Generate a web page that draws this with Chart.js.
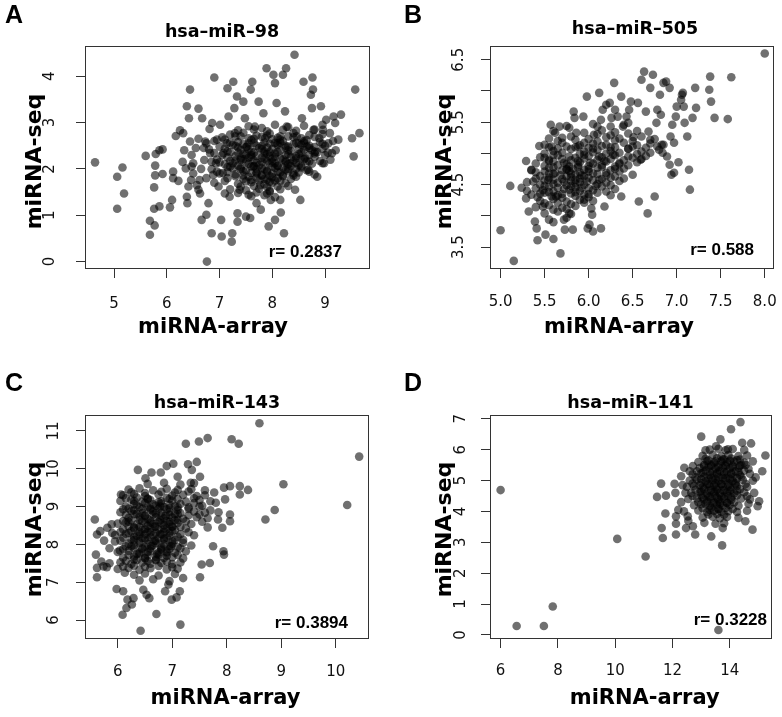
<!DOCTYPE html>
<html><head><meta charset="utf-8">
<script src="https://cdn.jsdelivr.net/npm/chart.js@4.4.1/dist/chart.umd.min.js"></script>
<style>
html,body{margin:0;padding:0;background:#fff;width:782px;height:717px;overflow:hidden;}
canvas{position:absolute;}
</style></head><body>
<canvas id="cA" width="391" height="358" style="left:0;top:0"></canvas>
<canvas id="cB" width="391" height="358" style="left:391px;top:0"></canvas>
<canvas id="cC" width="391" height="359" style="left:0;top:358px"></canvas>
<canvas id="cD" width="391" height="359" style="left:391px;top:358px"></canvas>
<script>
// ---------- DATA ----------
const panelLetters = ['A', 'B', 'C', 'D'];
const panelTitles = ['hsa–miR–98', 'hsa–miR–505', 'hsa–miR–143', 'hsa–miR–141'];
const xAxisTitle = 'miRNA-array';
const yAxisTitle = 'miRNA-seq';
const rLabels = ['r= 0.2837', 'r= 0.588', 'r= 0.3894', 'r= 0.3228'];

const xTicksA = [5, 6, 7, 8, 9];
const xTickLabelsA = ['5', '6', '7', '8', '9'];
const yTicksA = [0, 1, 2, 3, 4];
const yTickLabelsA = ['0', '1', '2', '3', '4'];

const xTicksB = [5, 5.5, 6, 6.5, 7, 7.5, 8];
const xTickLabelsB = ['5.0', '5.5', '6.0', '6.5', '7.0', '7.5', '8.0'];
const yTicksB = [3.5, 4, 4.5, 5, 5.5, 6, 6.5];
const yTickLabelsB = ['3.5', '', '4.5', '', '5.5', '', '6.5'];

const xTicksC = [6, 7, 8, 9, 10];
const xTickLabelsC = ['6', '7', '8', '9', '10'];
const yTicksC = [6, 7, 8, 9, 10, 11];
const yTickLabelsC = ['6', '7', '8', '9', '10', '11'];

const xTicksD = [6, 8, 10, 12, 14];
const xTickLabelsD = ['6', '8', '10', '12', '14'];
const yTicksD = [0, 1, 2, 3, 4, 5, 6, 7];
const yTickLabelsD = ['0', '1', '2', '3', '4', '5', '6', '7'];

// [miRNA-array, miRNA-seq]
const miR98 = [
[4.64,2.14],[5.06,1.83],[5.16,2.03],[5.06,1.14],[5.19,1.47],[5.60,2.28],[5.68,0.88],[5.68,0.58],[5.77,0.78],[5.76,1.14],
[5.76,1.60],[5.78,1.86],[5.78,2.07],[5.79,2.32],[5.86,2.40],[5.92,2.42],[5.92,1.89],[5.86,1.19],[6.06,1.17],[6.10,1.33],
[6.12,1.94],[6.12,1.80],[6.17,2.71],[6.22,1.74],[6.25,2.83],[6.31,2.77],[6.33,2.40],[6.36,2.01],[6.38,3.35],[6.38,1.40],
[6.39,1.26],[6.41,1.62],[6.44,3.71],[6.42,3.09],[6.44,2.59],[6.47,2.30],[6.47,2.05],[6.46,1.76],[6.50,2.12],[6.57,1.65],
[6.60,3.30],[6.62,1.76],[6.63,1.47],[6.66,0.90],[6.67,3.09],[6.71,2.19],[6.73,2.59],[6.75,1.01],[6.76,0.00],[6.79,1.26],
[6.81,2.86],[6.82,2.34],[6.85,0.61],[6.86,2.99],[6.88,1.87],[6.90,3.97],[6.93,2.12],[6.95,2.63],[6.98,1.62],[7.01,2.95],
[7.03,0.90],[7.04,0.54],[7.06,1.91],[7.07,2.34],[7.10,1.47],[7.14,2.55],[7.15,3.74],[7.17,3.13],[7.19,1.40],[7.20,2.05],
[7.23,0.43],[7.24,0.61],[7.26,3.88],[7.28,3.31],[7.29,2.77],[7.33,3.56],[7.34,1.04],[7.34,0.86],[7.38,1.55],[7.40,2.19],
[7.45,3.45],[7.48,3.09],[7.50,0.97],[7.52,2.48],[7.55,1.44],[7.58,0.94],[7.59,3.71],[7.62,3.88],[7.64,2.05],[7.67,2.91],
[7.70,1.26],[7.74,3.45],[7.77,1.65],[7.78,1.12],[7.83,3.20],[7.86,2.66],[7.89,4.17],[7.93,0.76],[7.95,1.51],[7.97,1.33],
[8.02,4.03],[8.05,3.85],[8.05,0.90],[8.08,3.42],[8.10,2.55],[8.15,1.33],[8.16,1.06],[8.20,4.03],[8.22,0.61],[8.24,3.24],
[8.26,4.17],[8.27,2.91],[8.30,1.63],[8.34,2.12],[8.42,4.46],[8.43,1.55],[8.46,2.70],[8.53,1.33],[8.56,3.09],[8.59,3.88],
[8.62,2.23],[8.65,2.48],[8.68,1.98],[8.73,3.60],[8.75,3.31],[8.76,3.97],[8.77,3.71],[8.78,2.84],[8.81,2.37],[8.85,1.83],
[8.89,2.66],[8.92,3.35],[8.96,2.84],[8.98,2.12],[9.02,3.06],[9.06,2.55],[9.09,2.77],[9.13,2.34],[9.16,3.13],[9.19,2.99],
[9.25,2.63],[9.30,3.17],[9.51,2.66],[9.54,2.27],[9.57,3.71],[9.65,2.77],
[7.55,2.92],[7.8,2.88],[8.05,2.95],[8.3,2.9],[8.6,2.93],
[7.2,2.74],[7.45,2.78],[7.7,2.72],[7.95,2.76],[8.15,2.7],[8.4,2.77],[8.7,2.73],[8.95,2.75],
[6.9,2.6],[7.1,2.63],[7.35,2.58],[7.6,2.62],[7.85,2.57],[8.0,2.64],[8.2,2.6],[8.45,2.56],[8.65,2.62],[8.9,2.58],
[7.0,2.48],[7.25,2.52],[7.5,2.47],[7.7,2.5],[7.9,2.46],[8.1,2.51],[8.3,2.48],[8.55,2.52],[8.8,2.47],[9.0,2.5],
[6.8,2.42],[7.15,2.38],[7.4,2.41],[7.6,2.37],[7.8,2.42],[7.95,2.36],[8.15,2.4],[8.35,2.38],[8.6,2.41],[8.85,2.36],
[7.05,2.3],[7.3,2.27],[7.5,2.31],[7.7,2.28],[7.9,2.32],[8.05,2.26],[8.25,2.3],[8.45,2.27],[8.7,2.3],
[6.95,2.2],[7.2,2.17],[7.45,2.21],[7.65,2.18],[7.85,2.22],[8.0,2.16],[8.2,2.2],[8.4,2.18],[8.6,2.21],[8.9,2.17],[9.1,2.2],
[7.1,2.1],[7.35,2.07],[7.55,2.11],[7.75,2.08],[7.95,2.12],[8.1,2.06],[8.3,2.1],[8.5,2.08],[8.75,2.11],
[6.85,1.99],[7.25,2.01],[7.5,1.97],[7.7,2.0],[7.9,1.96],[8.05,2.02],[8.25,1.98],[8.45,2.0],[8.65,1.97],
[7.0,1.9],[7.3,1.88],[7.6,1.91],[7.8,1.87],[8.0,1.9],[8.2,1.86],[8.4,1.9],[8.8,1.88],
[7.15,1.8],[7.45,1.78],[7.7,1.81],[7.9,1.77],[8.1,1.8],[8.35,1.78],
[6.9,1.7],[7.35,1.68],[7.6,1.71],[7.85,1.67],[8.0,1.7],[8.25,1.69],
[7.2,1.56],[7.5,1.54],[7.75,1.57],[7.95,1.53],[8.15,1.56],
[7.6,1.41],[7.85,1.43],[8.05,1.39],
[7.35,2.83],[7.65,2.85],[7.9,2.81],[8.2,2.84],[8.45,2.82],[8.8,2.85],
[7.05,2.68],[7.3,2.7],[7.55,2.66],[7.8,2.69],[8.1,2.67],[8.3,2.7],[8.55,2.66],[8.8,2.69],
[6.75,2.55],[7.2,2.57],[7.45,2.53],[7.65,2.56],[7.95,2.54],[8.15,2.57],[8.4,2.53],[8.6,2.56],[8.95,2.54],
[7.1,2.44],[7.35,2.46],[7.55,2.42],[7.75,2.45],[8.0,2.43],[8.25,2.46],[8.5,2.42],[8.7,2.45],[8.95,2.43],
[6.9,2.34],[7.2,2.36],[7.45,2.32],[7.65,2.35],[7.85,2.33],[8.1,2.36],[8.3,2.32],[8.55,2.35],[8.8,2.33],[9.05,2.35],
[7.15,2.25],[7.4,2.23],[7.6,2.26],[7.8,2.24],[7.95,2.27],[8.15,2.23],[8.35,2.25],[8.55,2.24],[8.8,2.26],
[7.0,2.14],[7.25,2.12],[7.5,2.15],[7.7,2.13],[7.9,2.16],[8.05,2.12],[8.25,2.14],[8.45,2.13],[8.7,2.16],[8.95,2.12],
[7.15,2.04],[7.4,2.03],[7.6,2.05],[7.8,2.02],[8.0,2.05],[8.2,2.03],[8.35,2.06],[8.55,2.03],
[6.95,1.94],[7.15,1.93],[7.45,1.95],[7.7,1.92],[7.9,1.94],[8.1,1.93],[8.3,1.95],[8.5,1.92],[8.7,1.94],
[7.3,1.84],[7.55,1.83],[7.8,1.85],[8.0,1.82],[8.2,1.84],[8.45,1.83],
[7.1,1.74],[7.5,1.73],[7.75,1.75],[7.95,1.72],[8.15,1.74],
[7.4,1.62],[7.65,1.63],[7.9,1.61],[8.1,1.62],
[7.35,1.48],[7.7,1.49],[7.9,1.47],
[6.55,2.45],[6.65,2.0],[6.6,2.65],[6.75,1.8],[6.5,1.9],[6.85,2.15],[6.7,2.45],[6.3,2.15],[6.6,1.55],
[9.0,2.3],[9.15,2.6],[8.95,2.95],[9.2,2.4],
[7.4,2.7],[7.65,2.65],[7.9,2.72],[8.15,2.63],[8.4,2.68],[8.6,2.6],
[7.3,2.5],[7.55,2.55],[7.8,2.5],[8.05,2.56],[8.25,2.5],[8.5,2.55],[8.7,2.5],
[7.35,2.35],[7.6,2.3],[7.85,2.38],[8.05,2.33],[8.3,2.4],[8.5,2.32],[8.75,2.4],
[7.3,2.18],[7.55,2.24],[7.8,2.15],[8.0,2.22],[8.25,2.17],[8.45,2.23],[8.65,2.16],
[7.4,2.0],[7.65,2.06],[7.85,1.99],[8.1,2.07],[8.3,2.0],[8.55,2.06],
[7.45,1.86],[7.7,1.9],[7.95,1.85],[8.15,1.92],[8.4,1.86],
[7.6,1.76],[7.85,1.78],[8.05,1.75]
];

const miR505 = [
[5.0,3.77],[5.15,3.28],[5.11,4.48],[5.24,4.45],[5.29,4.88],[5.29,4.28],[5.32,4.07],[5.35,4.73],[5.37,4.55],[5.39,3.91],
[5.41,3.80],[5.42,3.61],[5.44,5.12],[5.45,4.36],[5.48,4.15],[5.50,4.93],[5.51,3.70],[5.54,4.58],[5.57,5.46],[5.58,5.11],
[5.60,3.90],[5.60,3.63],[5.62,5.33],[5.63,4.31],[5.67,5.43],[5.68,3.40],[5.70,5.25],[5.72,3.94],[5.73,3.78],[5.75,4.74],
[5.78,5.41],[5.78,4.04],[5.82,3.78],[5.83,5.67],[5.84,5.57],[5.86,5.33],[5.88,5.11],[5.94,5.59],[5.95,5.17],[5.95,4.26],
[5.98,5.91],[5.99,3.80],[6.01,3.86],[6.05,3.75],[6.03,4.12],[6.04,4.02],[6.06,5.30],[6.10,5.43],[6.12,5.97],[6.14,3.80],
[6.14,5.54],[6.16,5.70],[6.18,4.15],[6.20,5.78],[6.24,5.81],[6.26,5.57],[6.29,6.13],[6.30,5.70],[6.33,5.59],[6.37,4.31],
[6.37,5.91],[6.39,5.43],[6.43,5.59],[6.45,5.49],[6.46,5.70],[6.48,5.83],[6.51,5.26],[6.56,5.81],[6.57,4.23],[6.59,4.90],
[6.60,6.18],[6.63,6.31],[6.65,5.67],[6.67,4.04],[6.68,5.35],[6.70,6.05],[6.73,6.26],[6.75,4.31],[6.77,5.49],[6.78,5.70],
[6.78,5.11],[6.81,5.94],[6.82,5.62],[6.83,5.14],[6.84,5.01],[6.85,6.13],[6.88,6.15],[6.89,4.95],[6.92,6.05],[6.92,4.82],
[6.93,5.27],[6.94,4.66],[6.95,5.46],[6.97,4.69],[6.97,5.17],[6.99,5.59],[7.00,5.75],[7.02,4.86],[7.05,5.86],[7.06,5.94],
[7.07,5.97],[7.08,5.75],[7.09,5.49],[7.12,5.27],[7.14,4.74],[7.15,4.42],[7.18,5.57],[7.21,6.05],[7.22,5.73],[7.37,6.02],
[7.38,6.23],[7.39,5.83],[7.43,5.57],[7.58,5.55],[7.62,6.22],[8.0,6.60],
[5.75,5.44],[6.05,5.47],[6.25,5.43],[6.4,5.46],
[5.6,5.36],[5.95,5.33],[6.15,5.37],[6.3,5.34],[6.55,5.36],
[5.55,5.24],[5.8,5.27],[6.0,5.23],[6.2,5.26],[6.35,5.24],[6.6,5.27],[6.75,5.23],
[5.5,5.14],[5.7,5.17],[5.9,5.13],[6.05,5.16],[6.2,5.14],[6.4,5.17],[6.55,5.13],[6.7,5.16],[6.85,5.14],
[5.6,5.04],[5.8,5.07],[5.95,5.03],[6.1,5.06],[6.25,5.04],[6.45,5.07],[6.6,5.03],[6.8,5.06],
[5.45,4.94],[5.65,4.97],[5.85,4.93],[6.0,4.96],[6.15,4.94],[6.3,4.97],[6.5,4.93],[6.65,4.96],
[5.4,4.84],[5.6,4.87],[5.75,4.83],[5.9,4.86],[6.05,4.84],[6.2,4.87],[6.35,4.83],[6.55,4.86],
[5.35,4.74],[5.55,4.77],[5.7,4.73],[5.82,4.76],[5.95,4.74],[6.1,4.77],[6.25,4.73],[6.4,4.76],
[5.45,4.64],[5.6,4.67],[5.75,4.63],[5.85,4.66],[5.95,4.64],[6.1,4.67],[6.3,4.63],[6.5,4.66],
[5.3,4.54],[5.5,4.57],[5.65,4.53],[5.8,4.56],[5.9,4.54],[6.05,4.57],[6.2,4.53],[6.35,4.56],
[5.4,4.44],[5.55,4.47],[5.72,4.43],[5.85,4.46],[6.0,4.44],[6.15,4.47],[6.3,4.43],
[5.35,4.34],[5.5,4.37],[5.65,4.33],[5.8,4.36],[5.95,4.34],[6.1,4.37],[6.25,4.33],
[5.45,4.24],[5.6,4.27],[5.75,4.23],[5.9,4.26],[6.05,4.24],
[5.4,4.14],[5.55,4.17],[5.7,4.13],[5.85,4.16],
[5.5,4.04],[5.65,4.07],[5.8,4.03],
[5.55,3.94],[5.75,3.97],
[6.1,5.31],[6.25,5.29],[6.45,5.32],
[5.65,5.2],[5.85,5.22],[6.1,5.19],[6.3,5.21],[6.5,5.2],[6.7,5.22],
[5.55,5.1],[5.75,5.11],[6.0,5.09],[6.15,5.12],[6.3,5.1],[6.5,5.11],[6.65,5.09],
[5.5,5.0],[5.7,5.01],[5.9,4.99],[6.05,5.02],[6.2,5.0],[6.35,5.01],[6.55,4.99],[6.7,5.01],
[5.55,4.9],[5.7,4.91],[5.8,4.89],[5.95,4.92],[6.1,4.9],[6.25,4.91],[6.4,4.89],[6.6,4.91],
[5.5,4.8],[5.65,4.81],[5.78,4.79],[5.88,4.82],[6.0,4.8],[6.15,4.81],[6.3,4.79],[6.45,4.81],
[5.4,4.7],[5.5,4.71],[5.62,4.69],[5.78,4.72],[5.9,4.7],[6.0,4.71],[6.2,4.69],[6.35,4.71],
[5.4,4.6],[5.55,4.61],[5.7,4.59],[5.8,4.62],[5.9,4.6],[6.0,4.61],[6.15,4.59],[6.25,4.61],[6.4,4.6],
[5.45,4.5],[5.6,4.51],[5.75,4.49],[5.85,4.52],[5.95,4.5],[6.1,4.51],[6.25,4.49],
[5.3,4.4],[5.48,4.41],[5.6,4.39],[5.78,4.42],[5.9,4.4],[6.05,4.41],[6.2,4.39],
[5.42,4.3],[5.58,4.31],[5.7,4.29],[5.85,4.32],[6.0,4.3],
[5.5,4.2],[5.65,4.21],[5.8,4.19],[5.95,4.21],
[5.6,4.1],[5.75,4.11],
[5.65,5.08],[5.85,5.1],[6.05,5.08],[6.25,5.1],[6.45,5.08],
[5.6,4.98],[5.78,4.95],[5.95,4.98],[6.12,4.95],[6.28,4.98],[6.45,4.95],
[5.55,4.88],[5.72,4.85],[5.88,4.88],[6.02,4.85],[6.18,4.88],[6.35,4.85],
[5.6,4.78],[5.75,4.75],[5.88,4.78],[6.0,4.75],[6.15,4.78],[6.3,4.75],
[5.55,4.68],[5.68,4.65],[5.8,4.68],[5.92,4.65],[6.05,4.68],[6.2,4.65],
[5.6,4.58],[5.72,4.55],[5.85,4.58],[5.98,4.55],[6.12,4.58],
[5.5,4.48],[5.65,4.45],[5.8,4.48],[5.92,4.45],[6.08,4.48],
[5.55,4.38],[5.7,4.35],[5.85,4.38],[6.0,4.35]
];

const miR143 = [
[5.58,8.66],[5.62,8.26],[5.60,7.73],[5.62,7.38],[5.62,7.13],[5.74,7.42],[5.68,8.35],[5.81,8.44],[5.89,8.53],[5.95,8.08],
[5.98,6.82],[6.04,7.84],[6.06,9.32],[6.09,6.14],[6.10,6.76],[6.13,7.25],[6.16,6.32],[6.18,6.54],[6.26,6.41],[6.29,6.58],
[6.37,9.97],[6.42,5.72],[6.47,6.80],[6.51,9.75],[6.53,6.67],[6.58,6.58],[6.62,9.90],[6.71,6.16],[6.79,9.90],[6.87,6.76],
[6.90,10.07],[6.93,6.94],[6.99,6.54],[7.02,10.13],[7.08,6.60],[7.10,9.79],[7.14,6.76],[7.15,5.88],[7.20,7.11],[7.25,10.66],
[7.29,10.12],[7.34,9.63],[7.36,9.97],[7.45,10.18],[7.49,10.72],[7.51,9.79],[7.51,7.13],[7.54,7.47],[7.65,10.81],[7.69,7.51],
[7.75,7.95],[7.77,9.37],[7.84,8.66],[7.92,8.44],[7.94,7.82],[7.95,7.73],[7.97,9.19],[7.95,9.50],[8.06,9.54],[8.06,8.79],
[8.06,8.61],[8.09,10.78],[8.22,10.66],[8.24,9.54],[8.24,9.32],[8.39,9.44],[8.60,11.20],[8.71,8.66],[8.88,8.91],[9.04,9.59],
[10.21,9.04],[10.43,10.32],
[6.55,9.6],[6.85,9.63],[7.15,9.58],[7.4,9.62],
[6.2,9.45],[6.4,9.48],[6.65,9.43],[6.9,9.47],[7.1,9.44],[7.35,9.46],[7.6,9.43],
[6.1,9.3],[6.3,9.33],[6.5,9.28],[6.75,9.32],[7.0,9.29],[7.2,9.31],[7.45,9.28],
[6.05,9.15],[6.25,9.18],[6.45,9.13],[6.6,9.17],[6.8,9.14],[7.0,9.16],[7.25,9.13],[7.5,9.17],[7.7,9.14],
[6.15,9.0],[6.35,9.03],[6.55,8.98],[6.7,9.02],[6.85,8.99],[7.05,9.01],[7.3,8.98],[7.55,9.02],
[6.05,8.85],[6.25,8.88],[6.45,8.83],[6.65,8.87],[6.8,8.84],[6.95,8.86],[7.15,8.83],[7.4,8.87],[7.6,8.84],
[6.2,8.7],[6.4,8.73],[6.55,8.68],[6.7,8.72],[6.85,8.69],[7.0,8.71],[7.2,8.68],[7.45,8.72],[7.65,8.69],
[6.0,8.55],[6.15,8.58],[6.35,8.53],[6.5,8.57],[6.65,8.54],[6.8,8.56],[6.95,8.53],[7.1,8.57],[7.35,8.54],
[6.1,8.4],[6.3,8.43],[6.45,8.38],[6.6,8.42],[6.75,8.39],[6.9,8.41],[7.05,8.38],[7.25,8.42],
[5.95,8.25],[6.15,8.28],[6.35,8.23],[6.5,8.27],[6.65,8.24],[6.8,8.26],[6.95,8.23],[7.15,8.27],[7.4,8.24],
[6.05,8.1],[6.25,8.13],[6.4,8.08],[6.55,8.12],[6.7,8.09],[6.85,8.11],[7.0,8.08],[7.2,8.12],
[6.15,7.95],[6.3,7.98],[6.5,7.93],[6.65,7.97],[6.8,7.94],[6.95,7.96],[7.1,7.93],[7.35,7.97],
[6.0,7.8],[6.2,7.83],[6.4,7.78],[6.6,7.82],[6.75,7.79],[6.9,7.81],[7.05,7.78],[7.25,7.82],
[6.1,7.65],[6.3,7.68],[6.5,7.63],[6.7,7.67],[6.85,7.64],[7.0,7.66],[7.2,7.63],
[5.85,7.5],[6.05,7.53],[6.25,7.48],[6.45,7.52],[6.6,7.49],[6.8,7.51],[7.0,7.48],[7.15,7.52],
[6.0,7.35],[6.2,7.38],[6.4,7.33],[6.6,7.37],[6.9,7.34],[7.1,7.36],
[6.3,7.2],[6.5,7.23],[6.75,7.18],[7.05,7.22],
[6.4,7.05],[6.65,7.08],[6.95,7.03],
[6.25,9.38],[6.5,9.36],[6.8,9.39],[7.05,9.37],[7.3,9.4],
[6.15,9.22],[6.35,9.24],[6.55,9.21],[6.9,9.23],[7.1,9.2],[7.4,9.22],
[6.3,9.07],[6.5,9.09],[6.65,9.06],[6.8,9.08],[6.95,9.05],[7.15,9.07],[7.4,9.09],
[6.1,8.93],[6.3,8.91],[6.45,8.94],[6.6,8.92],[6.75,8.95],[6.9,8.93],[7.1,8.91],[7.3,8.94],
[6.15,8.78],[6.35,8.8],[6.5,8.77],[6.65,8.79],[6.8,8.76],[6.95,8.78],[7.1,8.8],[7.3,8.77],[7.5,8.79],
[6.1,8.62],[6.25,8.64],[6.45,8.61],[6.6,8.63],[6.75,8.6],[6.9,8.62],[7.05,8.64],[7.25,8.61],
[6.2,8.48],[6.4,8.46],[6.55,8.49],[6.7,8.47],[6.85,8.5],[7.0,8.48],[7.15,8.46],
[6.05,8.33],[6.25,8.35],[6.4,8.32],[6.55,8.34],[6.7,8.31],[6.85,8.33],[7.0,8.35],[7.3,8.32],
[6.1,8.18],[6.3,8.2],[6.45,8.17],[6.6,8.19],[6.75,8.16],[6.9,8.18],[7.1,8.2],
[6.2,8.02],[6.4,8.04],[6.55,8.01],[6.7,8.03],[6.85,8.0],[7.0,8.02],[7.2,8.04],
[6.1,7.88],[6.3,7.9],[6.45,7.87],[6.6,7.89],[6.8,7.86],[6.95,7.88],[7.15,7.9],
[6.2,7.72],[6.4,7.74],[6.55,7.71],[6.75,7.73],[6.9,7.7],[7.1,7.72],
[6.15,7.57],[6.35,7.59],[6.55,7.56],[6.7,7.58],[6.9,7.55],
[6.1,7.42],[6.3,7.44],[6.5,7.41],[6.75,7.43],[7.0,7.4],
[5.75,8.1],[5.85,7.9],[5.7,7.55],[5.9,8.3],[5.8,7.4],
[7.6,9.3],[7.7,8.9],[7.8,9.1],[7.55,8.6],[7.65,8.45],[7.85,8.85],[7.5,9.0],
[6.3,9.15],[6.55,9.2],[6.75,9.12],[6.95,9.2],
[6.2,8.95],[6.4,8.98],[6.6,8.95],[6.78,9.0],[6.95,8.96],[7.1,8.99],
[6.3,8.8],[6.5,8.75],[6.7,8.82],[6.88,8.76],[7.05,8.8],
[6.2,8.6],[6.4,8.65],[6.6,8.58],[6.78,8.64],[6.95,8.6],[7.1,8.65],
[6.3,8.45],[6.5,8.4],[6.68,8.47],[6.85,8.42],[7.0,8.46],
[6.2,8.3],[6.4,8.26],[6.6,8.32],[6.78,8.28],[6.95,8.3],
[6.3,8.12],[6.5,8.16],[6.68,8.1],[6.85,8.15],[7.05,8.12],
[6.25,7.95],[6.45,7.9],[6.62,7.96],[6.8,7.9],[6.98,7.95],
[6.35,7.75],[6.55,7.8],[6.72,7.75],[6.9,7.78],
[6.3,7.6],[6.5,7.65],[6.7,7.6]
];

const miR141 = [
[6.0,4.69],[6.56,0.29],[7.51,0.29],[7.82,0.92],[10.07,3.11],[11.06,2.54],[13.6,0.16],[11.46,4.47],[11.6,4.90],[11.77,4.51],
[11.75,3.93],[11.62,3.46],[11.66,3.14],[12.07,4.89],[12.10,4.60],[12.12,3.84],[12.12,3.60],[12.12,3.25],[12.30,5.14],[12.41,5.41],
[12.71,5.47],[12.47,3.46],[12.71,3.52],[12.79,3.25],[13.0,6.42],[13.15,5.98],[13.35,3.19],[13.73,2.90],[13.75,3.46],[14.37,6.89],
[14.04,6.66],[14.74,6.20],[14.79,3.41],[15.02,4.33],[15.13,5.30],[15.24,5.81],[14.97,4.17],[14.54,3.68],[14.43,6.22],[13.67,6.33],
[13.52,6.11],[13.93,6.01],[13.11,3.63],[12.53,3.84],
[13.3,6.0],[13.6,6.03],[13.85,5.98],[14.1,6.02],[14.5,5.99],
[13.05,5.8],[13.4,5.83],[13.7,5.78],[13.95,5.82],[14.3,5.79],[14.6,5.81],
[12.9,5.6],[13.2,5.63],[13.45,5.58],[13.7,5.62],[13.9,5.59],[14.15,5.61],[14.5,5.58],[14.8,5.62],
[12.95,5.4],[13.25,5.43],[13.5,5.38],[13.75,5.42],[14.0,5.39],[14.3,5.41],[14.65,5.38],
[12.7,5.2],[13.0,5.23],[13.3,5.18],[13.55,5.22],[13.8,5.19],[14.05,5.21],[14.35,5.18],[14.7,5.22],
[12.6,5.0],[12.85,5.03],[13.15,4.98],[13.4,5.02],[13.6,4.99],[13.85,5.01],[14.1,4.98],[14.45,5.02],[14.8,4.99],
[12.5,4.8],[12.75,4.83],[13.05,4.78],[13.3,4.82],[13.5,4.79],[13.75,4.81],[14.0,4.78],[14.25,4.82],[14.6,4.79],
[12.65,4.6],[12.95,4.63],[13.2,4.58],[13.45,4.62],[13.65,4.59],[13.9,4.61],[14.15,4.58],[14.5,4.62],
[12.55,4.4],[12.85,4.43],[13.1,4.38],[13.35,4.42],[13.6,4.39],[13.8,4.41],[14.05,4.38],[14.4,4.42],[14.7,4.39],
[12.75,4.2],[13.0,4.23],[13.3,4.18],[13.55,4.22],[13.75,4.19],[14.0,4.21],[14.3,4.18],
[12.4,4.0],[12.9,4.03],[13.2,3.98],[13.45,4.02],[13.7,3.99],[13.95,4.01],[14.25,3.98],[14.6,4.02],
[13.05,3.8],[13.4,3.83],[13.65,3.78],[13.9,3.82],[14.3,3.79],
[13.5,3.6],[13.8,3.62],
[13.15,5.7],[13.55,5.72],[13.8,5.69],[14.05,5.71],[14.35,5.68],
[13.1,5.5],[13.35,5.52],[13.6,5.49],[13.85,5.51],[14.1,5.48],[14.4,5.5],
[12.85,5.3],[13.15,5.32],[13.4,5.29],[13.65,5.31],[13.9,5.28],[14.2,5.3],[14.5,5.32],
[12.8,5.1],[13.1,5.12],[13.35,5.09],[13.6,5.11],[13.85,5.08],[14.1,5.1],[14.4,5.12],
[12.7,4.9],[13.0,4.92],[13.25,4.89],[13.5,4.91],[13.7,4.88],[13.95,4.9],[14.2,4.92],[14.55,4.89],
[12.8,4.7],[13.1,4.72],[13.35,4.69],[13.55,4.71],[13.8,4.68],[14.05,4.7],[14.35,4.72],
[12.7,4.5],[13.0,4.52],[13.25,4.49],[13.5,4.51],[13.7,4.48],[13.95,4.5],[14.25,4.52],[14.6,4.49],
[12.9,4.3],[13.2,4.32],[13.45,4.29],[13.65,4.31],[13.9,4.28],[14.15,4.3],
[13.05,4.1],[13.35,4.12],[13.6,4.09],[13.85,4.11],[14.1,4.08],
[13.25,3.9],[13.55,3.92],[13.8,3.89],
[12.3,4.3],[12.2,4.05],[12.45,4.6],[12.35,4.85],[14.85,4.6],[14.9,5.1],[14.65,4.25],[14.55,5.5],[12.6,5.3],[12.55,3.7],
[13.25,5.65],[13.5,5.62],[13.75,5.68],[14.0,5.64],[14.25,5.66],
[13.1,5.45],[13.35,5.48],[13.6,5.44],[13.85,5.47],[14.1,5.44],[14.35,5.48],
[13.05,5.25],[13.3,5.28],[13.55,5.25],[13.8,5.27],[14.05,5.24],[14.3,5.27],
[13.0,5.05],[13.25,5.07],[13.5,5.05],[13.75,5.08],[14.0,5.05],[14.25,5.07],
[12.95,4.85],[13.2,4.87],[13.45,4.85],[13.7,4.88],[13.95,4.85],[14.2,4.87],
[13.0,4.65],[13.25,4.67],[13.5,4.65],[13.75,4.68],[14.0,4.65],[14.25,4.67],
[13.05,4.45],[13.3,4.47],[13.55,4.45],[13.8,4.48],[14.05,4.45],
[13.15,4.25],[13.4,4.27],[13.65,4.25],[13.9,4.27],
[13.3,4.05],[13.6,4.07]
];

// ---------- RENDERING ----------
const SANS = '"DejaVu Sans", sans-serif';
const ARIAL = '"Liberation Sans", Arial, sans-serif';

const panelText = {
  id: 'panelText',
  afterDraw(chart, args, o) {
    const ctx = chart.ctx, a = chart.chartArea, ys = chart.scales.y;
    ctx.save();
    // plot frame
    ctx.strokeStyle = '#333';
    ctx.lineWidth = 1;
    ctx.strokeRect(Math.round(a.left) + 0.5, Math.round(a.top) + 0.5,
                   Math.round(a.right - a.left) - 1, Math.round(a.bottom - a.top) - 1);
    // y tick labels (rotated, read bottom-to-top), placed with the y scale
    ctx.fillStyle = '#111';
    ctx.font = '15px ' + SANS;
    ctx.textAlign = 'center';
    ctx.textBaseline = 'middle';
    o.yTicks.forEach((v, i) => {
      const lab = o.yLabels[i];
      if (!lab) return;
      ctx.save();
      ctx.translate(o.yLabelX, ys.getPixelForValue(v));
      ctx.rotate(-Math.PI / 2);
      ctx.fillText(lab, 0, 0);
      ctx.restore();
    });
    ctx.fillStyle = '#000';
    ctx.textBaseline = 'alphabetic';
    ctx.font = 'bold 25px ' + ARIAL;
    ctx.textAlign = 'left';
    ctx.fillText(o.letter, o.letterX, o.letterY);
    ctx.font = 'bold 17.5px ' + SANS;
    ctx.textAlign = 'center';
    ctx.fillText(o.title, o.titleX, o.titleY);
    ctx.font = 'bold 21px ' + SANS;
    ctx.fillText(o.xTitle, o.xTitleX, o.xTitleY);
    ctx.save();
    ctx.translate(o.yTitleX, o.yTitleY);
    ctx.rotate(-Math.PI / 2);
    ctx.font = 'bold 22px ' + SANS;
    ctx.textAlign = 'center';
    ctx.fillText(o.yTitle, 0, 0);
    ctx.restore();
    ctx.font = 'bold 17px ' + ARIAL;
    ctx.textAlign = 'right';
    ctx.fillText(o.r, o.rX, o.rY);
    ctx.restore();
  }
};

function makePanel(id, pts, ax, text) {
  const tickFont = { family: SANS, size: 15 };
  text.yTicks = ax.yTicks;
  text.yLabels = ax.yLabels;
  new Chart(document.getElementById(id), {
    type: 'scatter',
    data: {
      datasets: [{
        data: pts.map(p => ({ x: p[0], y: p[1] })),
        backgroundColor: 'rgba(0,0,0,0.56)',
        borderWidth: 0,
        pointRadius: 4.3,
        pointHoverRadius: 4.3,
        clip: false
      }]
    },
    options: {
      responsive: false,
      animation: false,
      devicePixelRatio: 1,
      events: [],
      layout: { padding: ax.pad },
      plugins: { legend: { display: false }, tooltip: { enabled: false }, panelText: text },
      scales: {
        x: {
          type: 'linear', min: ax.xMin, max: ax.xMax,
          afterBuildTicks: s => { s.ticks = ax.xTicks.map(v => ({ value: v })); },
          afterFit: s => { s.height = 60; s.paddingLeft = 0; s.paddingRight = 0; s.paddingTop = 0; s.paddingBottom = 0; },
          ticks: { callback: (v, i) => ax.xLabels[i], autoSkip: false, maxRotation: 0, minRotation: 0,
                   padding: ax.xPad, font: tickFont, color: '#111' },
          grid: { drawOnChartArea: false, drawTicks: true, tickLength: 9, color: '#333', lineWidth: 1 },
          border: { display: false }
        },
        y: {
          type: 'linear', min: ax.yMin, max: ax.yMax,
          afterBuildTicks: s => { s.ticks = ax.yTicks.map(v => ({ value: v })); },
          afterFit: s => { s.width = ax.yWidth; s.paddingTop = 0; s.paddingBottom = 0; s.paddingLeft = 0; s.paddingRight = 0; },
          ticks: { display: false, autoSkip: false },
          grid: { drawOnChartArea: false, drawTicks: true, tickLength: 9, color: '#333', lineWidth: 1 },
          border: { display: false }
        }
      }
    },
    plugins: [panelText]
  });
}

makePanel('cA', miR98,
  { xMin: 4.45, xMax: 9.85, yMin: -0.16, yMax: 4.65, xTicks: xTicksA, xLabels: xTickLabelsA, yTicks: yTicksA, yLabels: yTickLabelsA,
    pad: { left: 0, right: 21, top: 46, bottom: 29 }, yWidth: 85, xPad: 17 },
  { letter: panelLetters[0], letterX: 5, letterY: 23, title: panelTitles[0], titleX: 222, titleY: 37,
    xTitle: xAxisTitle, xTitleX: 213, xTitleY: 333, yTitle: yAxisTitle, yTitleX: 41, yTitleY: 161.5,
    r: rLabels[0], rX: 342, rY: 257, yLabelX: 50 });

makePanel('cB', miR505,
  { xMin: 4.88, xMax: 8.105, yMin: 3.15, yMax: 6.72, xTicks: xTicksB, xLabels: xTickLabelsB, yTicks: yTicksB, yLabels: yTickLabelsB,
    pad: { left: 0, right: 8, top: 46, bottom: 29 }, yWidth: 99, xPad: 15 },
  { letter: panelLetters[1], letterX: 13, letterY: 23, title: panelTitles[1], titleX: 244, titleY: 34,
    xTitle: xAxisTitle, xTitleX: 228, xTitleY: 333, yTitle: yAxisTitle, yTitleX: 60, yTitleY: 161.5,
    r: rLabels[1], rX: 363, rY: 255, yLabelX: 68.5 });

makePanel('cC', miR143,
  { xMin: 5.40, xMax: 10.61, yMin: 5.50, yMax: 11.42, xTicks: xTicksC, xLabels: xTickLabelsC, yTicks: yTicksC, yLabels: yTickLabelsC,
    pad: { left: 0, right: 22, top: 57, bottom: 18 }, yWidth: 85, xPad: 15 },
  { letter: panelLetters[2], letterX: 5, letterY: 33, title: panelTitles[2], titleX: 217, titleY: 50,
    xTitle: xAxisTitle, xTitleX: 225.5, xTitleY: 346, yTitle: yAxisTitle, yTitleX: 41, yTitleY: 171.5,
    r: rLabels[2], rX: 348, rY: 270, yLabelX: 54 });

makePanel('cD', miR141,
  { xMin: 5.63, xMax: 15.47, yMin: -0.13, yMax: 7.12, xTicks: xTicksD, xLabels: xTickLabelsD, yTicks: yTicksD, yLabels: yTickLabelsD,
    pad: { left: 0, right: 10, top: 57, bottom: 18 }, yWidth: 99, xPad: 14.5 },
  { letter: panelLetters[3], letterX: 13, letterY: 33, title: panelTitles[3], titleX: 239.5, titleY: 50,
    xTitle: xAxisTitle, xTitleX: 253.7, xTitleY: 346, yTitle: yAxisTitle, yTitleX: 60, yTitleY: 171.5,
    r: rLabels[3], rX: 376, rY: 267, yLabelX: 70 });
</script>
</body></html>
